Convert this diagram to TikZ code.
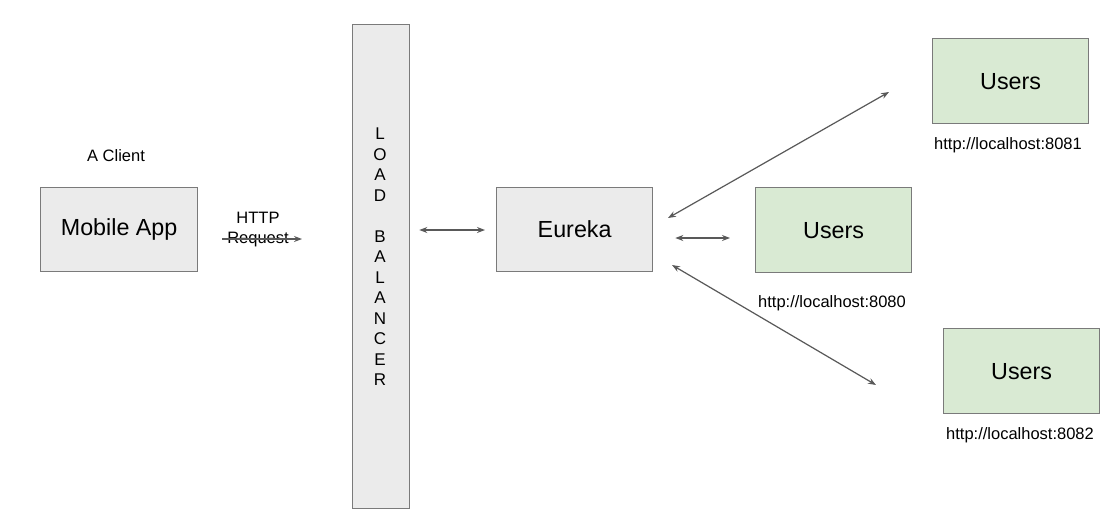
\documentclass[tikz,border=0pt]{standalone}
\usepackage{fontspec}
\setmainfont{Liberation Sans}
\usetikzlibrary{arrows.meta}
\definecolor{boxgray}{HTML}{EBEBEB}
\definecolor{boxgreen}{HTML}{D9EAD3}
\definecolor{edge}{HTML}{7A7A7A}
\definecolor{arr}{HTML}{595959}
\tikzset{
  graybox/.style={draw=edge, line width=1.3pt, fill=boxgray, rectangle, anchor=north west, inner sep=0pt,
    font=\fontsize{23.3}{27}\selectfont},
  greenbox/.style={draw=edge, line width=1.3pt, fill=boxgreen, rectangle, anchor=north west, inner sep=0pt,
    font=\fontsize{23.3}{27}\selectfont, minimum width=156pt, minimum height=85pt},
  lbl/.style={font=\fontsize{16.5}{20}\selectfont, inner sep=0pt},
  conn/.style={draw=arr, line width=1.2pt, {Stealth[length=8pt,width=6pt]}-{Stealth[length=8pt,width=6pt]}},
  oneway/.style={draw=arr, line width=1.2pt, -{Stealth[length=8pt,width=6pt]}}
}
\begin{document}
\begin{tikzpicture}[x=1pt,y=-1pt]
\useasboundingbox[fill=white] (0,0) rectangle (1110,517);
% nodes
\node[graybox, minimum width=157pt, minimum height=84pt] (app) at (40,187) {Mobile App};
\node[lbl] (client) at (116,156) {A Client};
\node[graybox, minimum width=57pt, minimum height=484pt] (lb) at (352,24) {};
\node[lbl, align=center, font=\fontsize{17}{20.5}\selectfont] (lbtext) at (380,257) {L\\O\\A\\D\\[20.5pt]B\\A\\L\\A\\N\\C\\E\\R};
\node[graybox, minimum width=156pt, minimum height=84pt] (eur) at (496,187) {Eureka};
\node[greenbox] (u0) at (755,187) {Users};
\node[greenbox] (u1) at (932,38) {Users};
\node[greenbox] (u2) at (943,328) {Users};
\node[lbl] (url0) at (832,303) {http://localhost:8080};
\node[lbl] (url1) at (1008,145) {http://localhost:8081};
\node[lbl] (url2) at (1020,435) {http://localhost:8082};
% HTTP request
\node[lbl] (http) at (258,218) {HTTP};
\node[lbl] (req) at (258,240) {Request};
\coordinate (hs) at (222,239);
\coordinate (he) at (302,239);
\draw[oneway] (hs) -- (he);
% connectors
\draw[conn] ([xshift=9pt]lb.east |- 0,230) -- ([xshift=-11pt]eur.west |- 0,230);
\draw[conn] ([xshift=22pt]eur.east |- 0,238) -- ([xshift=-25pt]u0.west |- 0,238);
\coordinate (e1) at (668,218);
\coordinate (t1) at (889,92);
\draw[conn] (e1) -- (t1);
\coordinate (e2) at (672,265);
\coordinate (t2) at (876,385);
\draw[conn] (e2) -- (t2);
\end{tikzpicture}
\end{document}
